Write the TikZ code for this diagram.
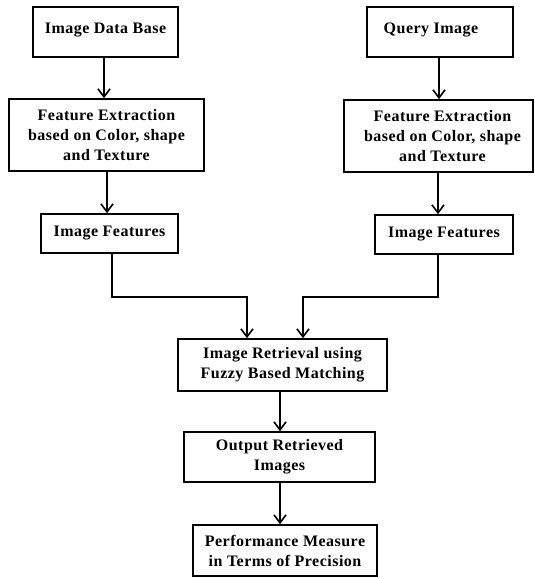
\documentclass[tikz,border=0pt]{standalone}
\usepackage{fontspec}
\setmainfont{Liberation Serif}[LetterSpace=3]
\usetikzlibrary{arrows.meta}
\begin{document}
\begin{tikzpicture}[x=1pt,y=-1pt,
  box/.style={draw,line width=1.6pt,rectangle,align=center,inner sep=0pt,
    font=\bfseries\fontsize{16}{20}\selectfont},
  arr/.style={line width=1.6pt,-{Straight Barb[length=8pt,width=12pt,line width=1.6pt]}}]
\useasboundingbox (0,0) rectangle (535,579);
\node[box,minimum width=145pt,minimum height=50pt] (A) at (105.5,32) {\raisebox{7pt}{Image Data Base}};
\node[box,minimum width=146pt,minimum height=50pt] (B) at (440,32) {\raisebox{7pt}{\hspace*{-18pt}Query Image}};
\node[box,minimum width=195pt,minimum height=72pt] (C) at (106.5,135) {Feature Extraction\\based on Color, shape\\and Texture};
\node[box,minimum width=189pt,minimum height=72pt] (D) at (438.5,136) {\hspace*{8pt}Feature Extraction\\\hspace*{8pt}based on Color, shape\\\hspace*{8pt}and Texture};
\node[box,minimum width=137pt,minimum height=39pt] (E) at (109.5,233.5) {\raisebox{4pt}{Image Features}};
\node[box,minimum width=138pt,minimum height=39pt] (F) at (444,234.5) {\raisebox{4pt}{Image Features}};
\node[box,minimum width=209pt,minimum height=52pt] (G) at (282.5,365) {Image Retrieval using\\Fuzzy Based Matching};
\node[box,minimum width=191pt,minimum height=50pt] (H) at (279.5,457) {Output Retrieved\\Images};
\node[box,minimum width=184pt,minimum height=51pt] (I) at (285,550.5) {Performance Measure\\in Terms of Precision};
\draw[arr] (A.south -| 104,0) -- (C.north -| 104,0);
\draw[arr] (B.south -| 439,0) -- (D.north -| 439,0);
\draw[arr] (C.south -| 107,0) -- (E.north -| 107,0);
\draw[arr] (D.south -| 438,0) -- (F.north -| 438,0);
\draw[arr] (E.south -| 112,0) |- (247,297) -- (G.north -| 247,0);
\draw[arr] (F.south -| 438,0) |- (303,297) -- (G.north -| 303,0);
\draw[arr] (G.south -| 280,0) -- (H.north -| 280,0);
\draw[arr] (H.south -| 280,0) -- (I.north -| 280,0);
\end{tikzpicture}
\end{document}
